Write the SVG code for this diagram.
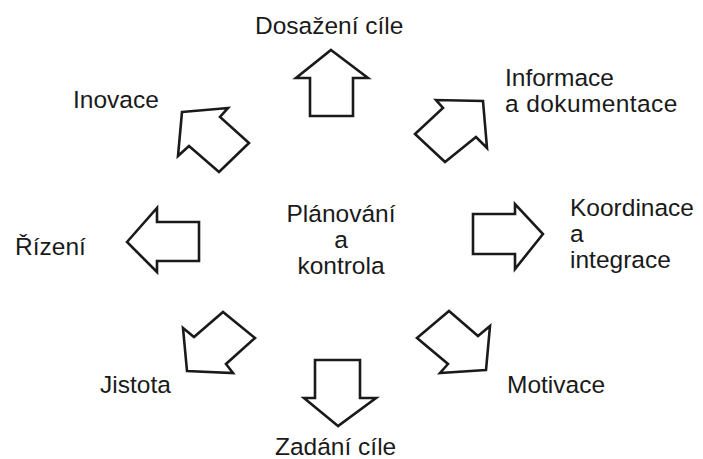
<svg xmlns="http://www.w3.org/2000/svg" width="703" height="459" viewBox="0 0 703 459">
  <style>
    .arrow { fill: #fff; stroke: #1a1a1a; stroke-width: 2.6; stroke-linejoin: miter; }
    .label { font-family: "Liberation Sans", Arial, sans-serif; font-size: 24.5px; fill: #1a1a1a; }
  </style>
  <rect width="703" height="459" fill="#fff"/>

  <!-- central concept -->
  <g id="center">
    <text class="label" x="341" y="222" text-anchor="middle">Plánování</text>
    <text class="label" x="341" y="248" text-anchor="middle">a</text>
    <text class="label" x="341" y="274" text-anchor="middle">kontrola</text>
  </g>

  <!-- block arrows radiating from the centre -->
  <g id="connectors">
    <polygon id="arrow-up" class="arrow" points="331,50 368,78 353,78 353,116 310,116 310,78 296,78"/>
    <polygon id="arrow-up-right" class="arrow" points="483,101 487,148 476,137 445,162 415,134 443,108 436,100"/>
    <polygon id="arrow-right" class="arrow" points="543,234 515,269 515,254 473,254 473,214 515,214 515,204"/>
    <polygon id="arrow-down-right" class="arrow" points="486,370 440,373 448,364 417,338 449,311 478,336 490,326"/>
    <polygon id="arrow-down" class="arrow" points="338,426 304,398 315,398 315,360 360,360 360,398 376,398"/>
    <polygon id="arrow-down-left" class="arrow" points="187,371 183,328 194,337 223,312 255,338 226,364 233,373"/>
    <polygon id="arrow-left" class="arrow" points="127,242 157,208 157,222 199,222 199,261 157,261 157,272"/>
    <polygon id="arrow-up-left" class="arrow" points="182,112 228,108 220,117 249,143 219,172 189,146 178,156"/>
  </g>

  <!-- outer goals -->
  <g id="dosazeni-cile"><text class="label" x="255" y="34">Dosažení cíle</text></g>
  <g id="informace">
    <text class="label" x="505" y="86">Informace</text>
    <text class="label" x="505" y="112" letter-spacing="0.4">a dokumentace</text>
  </g>
  <g id="koordinace">
    <text class="label" x="570" y="216">Koordinace</text>
    <text class="label" x="570" y="242">a</text>
    <text class="label" x="570" y="268">integrace</text>
  </g>
  <g id="motivace"><text class="label" x="507" y="393">Motivace</text></g>
  <g id="zadani-cile"><text class="label" x="275" y="455">Zadání cíle</text></g>
  <g id="jistota"><text class="label" x="100" y="393">Jistota</text></g>
  <g id="rizeni"><text class="label" x="15" y="255">Řízení</text></g>
  <g id="inovace"><text class="label" x="73" y="108">Inovace</text></g>
</svg>
